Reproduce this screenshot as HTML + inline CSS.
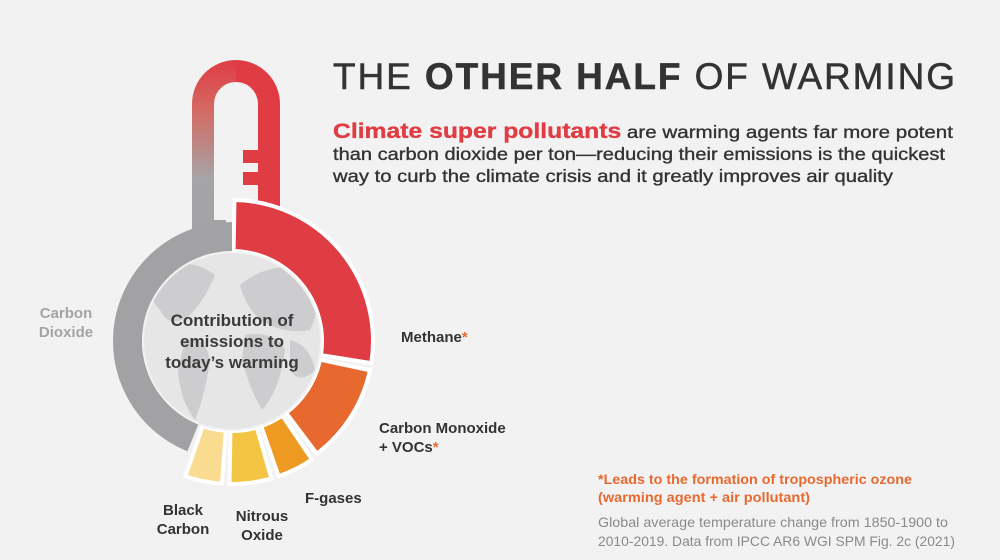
<!DOCTYPE html>
<html><head><meta charset="utf-8"><style>
html,body{margin:0;padding:0;background:#f2f2f2;}
svg{display:block;font-family:"Liberation Sans",sans-serif;}
</style></head><body>
<svg id="chart" width="1000" height="560" viewBox="0 0 1000 560">
<defs>
<linearGradient id="stemGrad" x1="0" y1="0" x2="0" y2="1" gradientUnits="objectBoundingBox">
<stop offset="0" stop-color="#e03c44"/><stop offset="0.25" stop-color="#d46a62"/><stop offset="0.6" stop-color="#a5a5a8"/><stop offset="1" stop-color="#a2a2a5"/>
</linearGradient>
<clipPath id="mapClip"><circle cx="232" cy="341" r="88"/></clipPath>
</defs>
<rect width="1000" height="560" fill="#f2f2f2"/>
<g id="stem">
<path d="M192,104 A44,44 0 0 1 236,60 L236,82 A22,22 0 0 0 214,104 L214,260 L192,260 Z" fill="url(#stemGrad)"/>
<rect x="214" y="220" width="12" height="40" fill="#a2a2a5"/>
<path d="M236,60 A44,44 0 0 1 280,104 L280,260 L258,260 L258,104 A22,22 0 0 0 236,82 Z" fill="#e03c44"/>
<rect x="237" y="202" width="22" height="58" fill="#e03c44"/>
<rect x="243" y="150" width="16" height="13" fill="#e03c44"/>
<rect x="243" y="172" width="16" height="13" fill="#e03c44"/>
</g>
<g id="ring"></g>
<g>
<circle cx="232" cy="341" r="90" fill="#f2f2f2"/>
<circle cx="232" cy="341" r="88" fill="#e6e6e7"/>
<g clip-path="url(#mapClip)" fill="#cdcdcf">
<path d="M150,270 Q190,255 215,275 Q205,300 190,315 Q170,330 160,310 Q145,295 150,270 Z"/>
<path d="M185,340 Q205,335 210,360 Q205,395 195,420 Q180,400 178,370 Z"/>
<path d="M240,285 Q270,260 310,270 Q325,300 310,330 Q285,335 260,320 Q245,305 240,285 Z"/>
<path d="M245,335 Q275,330 285,350 Q280,390 262,410 Q248,385 242,360 Z"/>
<path d="M290,340 Q310,345 315,370 Q300,385 290,370 Z"/>
</g>
</g>
<g font-size="17" text-anchor="middle">
<text x="232" y="326" font-weight="bold" fill="#3a3a3a">Contribution of</text>
<text x="232" y="347" font-weight="bold" fill="#3a3a3a">emissions to</text>
<text x="232" y="368" font-weight="bold" fill="#3a3a3a">today’s warming</text>
</g>
<g font-size="15" font-weight="bold" fill="#333">
<g fill="#a4a4a6" text-anchor="middle"><text x="66" y="318">Carbon</text><text x="66" y="337">Dioxide</text></g>
<text x="401" y="342">Methane<tspan fill="#e8692f">*</tspan></text>
<g><text x="379" y="433">Carbon Monoxide</text><text x="379" y="452">+ VOCs<tspan fill="#e8692f">*</tspan></text></g>
<text x="305" y="503">F-gases</text>
<g text-anchor="middle"><text x="262" y="521">Nitrous</text><text x="262" y="540">Oxide</text></g>
<g text-anchor="middle"><text x="183" y="515">Black</text><text x="183" y="534">Carbon</text></g>
</g>
<text x="333" y="89" font-size="37" fill="#333" stroke="#333" stroke-width="0.5" textLength="622" lengthAdjust="spacing">THE <tspan font-weight="bold">OTHER HALF</tspan> OF WARMING</text>
<g font-size="17.5" fill="#333" stroke="#333" stroke-width="0.35">
<text x="333" y="138" textLength="620" lengthAdjust="spacingAndGlyphs"><tspan fill="#e03c44" stroke="#e03c44" font-weight="bold" font-size="21">Climate super pollutants</tspan> are warming agents far more potent</text>
<text x="333" y="160" textLength="612" lengthAdjust="spacingAndGlyphs">than carbon dioxide per ton—reducing their emissions is the quickest</text>
<text x="333" y="182" textLength="560" lengthAdjust="spacingAndGlyphs">way to curb the climate crisis and it greatly improves air quality</text>
</g>
<g font-size="14" fill="#e8692f" font-weight="bold">
<text x="598" y="484" textLength="314" lengthAdjust="spacingAndGlyphs">*Leads to the formation of tropospheric ozone</text>
<text x="598" y="502" textLength="212" lengthAdjust="spacingAndGlyphs">(warming agent + air pollutant)</text>
</g>
<g font-size="14" fill="#8a8a8c">
<text x="598" y="527" textLength="350" lengthAdjust="spacingAndGlyphs">Global average temperature change from 1850-1900 to</text>
<text x="598" y="546" textLength="357" lengthAdjust="spacingAndGlyphs">2010-2019. Data from IPCC AR6 WGI SPM Fig. 2c (2021)</text>
</g>
</svg>
<script>
const categories = ["Methane", "Carbon Monoxide + VOCs", "F-gases", "Nitrous Oxide", "Black Carbon", "Carbon Dioxide"];
const values = [98, 41, 15, 17, 15, 156];
const colors = ["#e03c44", "#e8692f", "#ee9a22", "#f4c443", "#f9dc8f", "#a2a2a5"];
const outerR = [141, 141, 143, 143, 143, 119];
const cx = 232, cy = 341, innerR = 90, gap = 3, startAngle = 1;
const total = values.reduce((a, b) => a + b, 0);
const avail = 360 - gap * values.length;
function pt(r, a) { const t = (a - 90) * Math.PI / 180; return [cx + r * Math.cos(t), cy + r * Math.sin(t)]; }
function arcPath(r0, r1, a0, a1) {
  const large = (a1 - a0) > 180 ? 1 : 0;
  const p1 = pt(r1, a0), p2 = pt(r1, a1), p3 = pt(r0, a1), p4 = pt(r0, a0);
  return `M${p1[0]},${p1[1]} A${r1},${r1} 0 ${large} 1 ${p2[0]},${p2[1]} L${p3[0]},${p3[1]} A${r0},${r0} 0 ${large} 0 ${p4[0]},${p4[1]} Z`;
}
const ring = document.getElementById('ring');
let a = startAngle;
values.forEach((v, i) => {
  const span = v / total * avail;
  const el = document.createElementNS('http://www.w3.org/2000/svg', 'path');
  const isGray = i === values.length - 1;
  const a1 = isGray ? Math.min(a + span + gap, 360) : a + span;
  el.setAttribute('d', arcPath(innerR, outerR[i], a, a1));
  el.setAttribute('fill', colors[i]);
  if (!isGray) { el.setAttribute('stroke', '#ffffff'); el.setAttribute('stroke-width', '4'); }
  
  
  ring.appendChild(el);
  a += span + gap;
});
</script>
</body></html>
